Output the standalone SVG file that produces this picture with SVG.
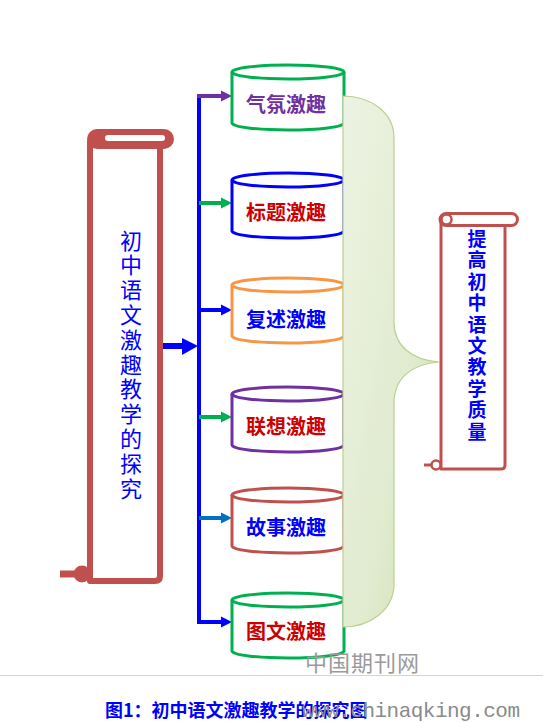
<svg xmlns="http://www.w3.org/2000/svg" width="543" height="722" viewBox="0 0 543 722">
<style>
.scroll{fill:#fff;stroke:#C0504D;stroke-linejoin:round;stroke-linecap:round}
.cyl{fill:#fff;stroke-width:3}
.lbl{font-family:"Noto Sans CJK SC","Noto Sans CJK TC",sans-serif;font-size:20px;font-weight:bold;text-anchor:middle}
.vt{font-family:"Noto Sans CJK SC",sans-serif;fill:#0000FF;text-anchor:middle}
</style>
<defs>
<linearGradient id="gb" x1="0" y1="0" x2="1" y2="1">
<stop offset="0" stop-color="#edf3e3"/>
<stop offset="0.6" stop-color="#e1ebcf"/>
<stop offset="1" stop-color="#cfdeb0"/>
</linearGradient>
</defs>
<rect width="543" height="722" fill="#fff"/>

<g id="left-scroll">
<path class="scroll" stroke-width="6" d="M90,142 V581 H155 Q160,581 160,576 V142"/>
<rect x="87" y="129" width="87" height="20" rx="10" fill="#C0504D"/>
<rect x="105" y="135" width="60" height="6" rx="3" fill="#fff"/>
<line x1="60" y1="574" x2="80" y2="574" stroke="#C0504D" stroke-width="7"/>
<circle cx="82" cy="574" r="8.5" fill="#C0504D"/>
<text class="vt" font-size="22"><tspan x="131" y="248.5">初</tspan><tspan x="131" dy="24.8">中</tspan><tspan x="131" dy="24.8">语</tspan><tspan x="131" dy="24.8">文</tspan><tspan x="131" dy="24.8">激</tspan><tspan x="131" dy="24.8">趣</tspan><tspan x="131" dy="24.8">教</tspan><tspan x="131" dy="24.8">学</tspan><tspan x="131" dy="24.8">的</tspan><tspan x="131" dy="24.8">探</tspan><tspan x="131" dy="24.8">究</tspan></text>
</g>

<g id="connectors">
<rect x="163" y="343" width="20" height="6" fill="#0000FF"/>
<polygon points="182,338 198,346 182,355" fill="#0000FF"/>
<line x1="199" y1="95" x2="199" y2="624" stroke="#0000FF" stroke-width="4"/>
<path d="M197,622 H222" stroke="#0000FF" stroke-width="4"/>
<line x1="197" y1="96" x2="222" y2="96" stroke="#7030A0" stroke-width="4"/>
<polygon points="221,90.5 232,96 221,101.5" fill="#7030A0"/>
<line x1="199" y1="203" x2="222" y2="203" stroke="#00B050" stroke-width="4"/>
<polygon points="221,197.5 232,203 221,208.5" fill="#00B050"/>
<line x1="199" y1="310" x2="222" y2="310" stroke="#0000FF" stroke-width="4"/>
<polygon points="221,304.5 232,310 221,315.5" fill="#0000FF"/>
<line x1="199" y1="417" x2="222" y2="417" stroke="#00B050" stroke-width="4"/>
<polygon points="221,411.5 232,417 221,422.5" fill="#00B050"/>
<line x1="199" y1="518" x2="222" y2="518" stroke="#0070C0" stroke-width="4"/>
<polygon points="221,512.5 232,518 221,523.5" fill="#0070C0"/>
<polygon points="221,616.5 232,622 221,627.5" fill="#0000FF"/>
</g>

<g id="cyl1" transform="translate(0,72)">
<path class="cyl" stroke="#00B050" d="M232,0 V51 A56,7 0 0 0 344,51 V0"/>
<ellipse class="cyl" stroke="#00B050" cx="288" cy="0" rx="56" ry="7"/>
<text class="lbl" x="286" y="40" fill="#7030A0">气氛激趣</text>
</g>
<g id="cyl2" transform="translate(0,180)">
<path class="cyl" stroke="#0000FF" d="M232,0 V51 A56,7 0 0 0 344,51 V0"/>
<ellipse class="cyl" stroke="#0000FF" cx="288" cy="0" rx="56" ry="7"/>
<text class="lbl" x="286" y="40" fill="#CC0000">标题激趣</text>
</g>
<g id="cyl3" transform="translate(0,285)">
<path class="cyl" stroke="#F79646" d="M232,0 V51 A56,7 0 0 0 344,51 V0"/>
<ellipse class="cyl" stroke="#F79646" cx="288" cy="0" rx="56" ry="7"/>
<text class="lbl" x="286" y="42" fill="#0000FF">复述激趣</text>
</g>
<g id="cyl4" transform="translate(0,394)">
<path class="cyl" stroke="#7030A0" d="M232,0 V51 A56,7 0 0 0 344,51 V0"/>
<ellipse class="cyl" stroke="#7030A0" cx="288" cy="0" rx="56" ry="7"/>
<text class="lbl" x="286" y="40" fill="#CC0000">联想激趣</text>
</g>
<g id="cyl5" transform="translate(0,495)">
<path class="cyl" stroke="#C0504D" d="M232,0 V51 A56,7 0 0 0 344,51 V0"/>
<ellipse class="cyl" stroke="#C0504D" cx="288" cy="0" rx="56" ry="7"/>
<text class="lbl" x="286" y="40" fill="#0000FF">故事激趣</text>
</g>
<g id="cyl6" transform="translate(0,600)">
<path class="cyl" stroke="#00B050" d="M232,0 V51 A56,7 0 0 0 344,51 V0"/>
<ellipse class="cyl" stroke="#00B050" cx="288" cy="0" rx="56" ry="7"/>
<text class="lbl" x="286" y="39" fill="#CC0000">图文激趣</text>
</g>

<g id="brace">
<path d="M343,96 C370,96 394,112 394,138 V322 C394,346 412,360 439,362 C412,364 394,378 394,403 V584 C394,610 370,627 343,627 Z" fill="url(#gb)" stroke="#b9cf92" stroke-width="1.2"/>
</g>

<g id="right-scroll">
<path class="scroll" stroke-width="3" d="M441,222 V469 H501 Q505,469 505,465 V225"/>
<rect x="440" y="213.5" width="77.5" height="12" rx="6" class="scroll" stroke-width="3"/>
<circle cx="446.5" cy="219.5" r="5" fill="none" stroke="#C0504D" stroke-width="2.5"/>
<line x1="424" y1="465" x2="436" y2="465" stroke="#C0504D" stroke-width="3"/>
<circle cx="436" cy="465" r="4.5" fill="#fff" stroke="#C0504D" stroke-width="2.5"/>
<text class="vt" font-size="19" font-weight="bold"><tspan x="477" y="246">提</tspan><tspan x="477" dy="21.4">高</tspan><tspan x="477" dy="21.4">初</tspan><tspan x="477" dy="21.4">中</tspan><tspan x="477" dy="21.4">语</tspan><tspan x="477" dy="21.4">文</tspan><tspan x="477" dy="21.4">教</tspan><tspan x="477" dy="21.4">学</tspan><tspan x="477" dy="21.4">质</tspan><tspan x="477" dy="21.4">量</tspan></text>
</g>

<g id="footer">
<text x="305" y="671" font-family="Noto Sans CJK SC,sans-serif" font-size="22" fill="#9a9a9a" letter-spacing="1">中国期刊网</text>
<line x1="0" y1="675.5" x2="543" y2="675.5" stroke="#d4d4d4" stroke-width="1"/>
<text x="105" y="717" font-family="Noto Sans CJK SC,sans-serif" font-size="18" font-weight="bold" fill="#0000FF">图1：初中语文激趣教学的探究图</text>
<text x="302" y="717" font-family="Liberation Mono,monospace" font-size="21" fill="#8a8a8a" textLength="218" lengthAdjust="spacing">www.chinaqking.com</text>
</g>
</svg>
